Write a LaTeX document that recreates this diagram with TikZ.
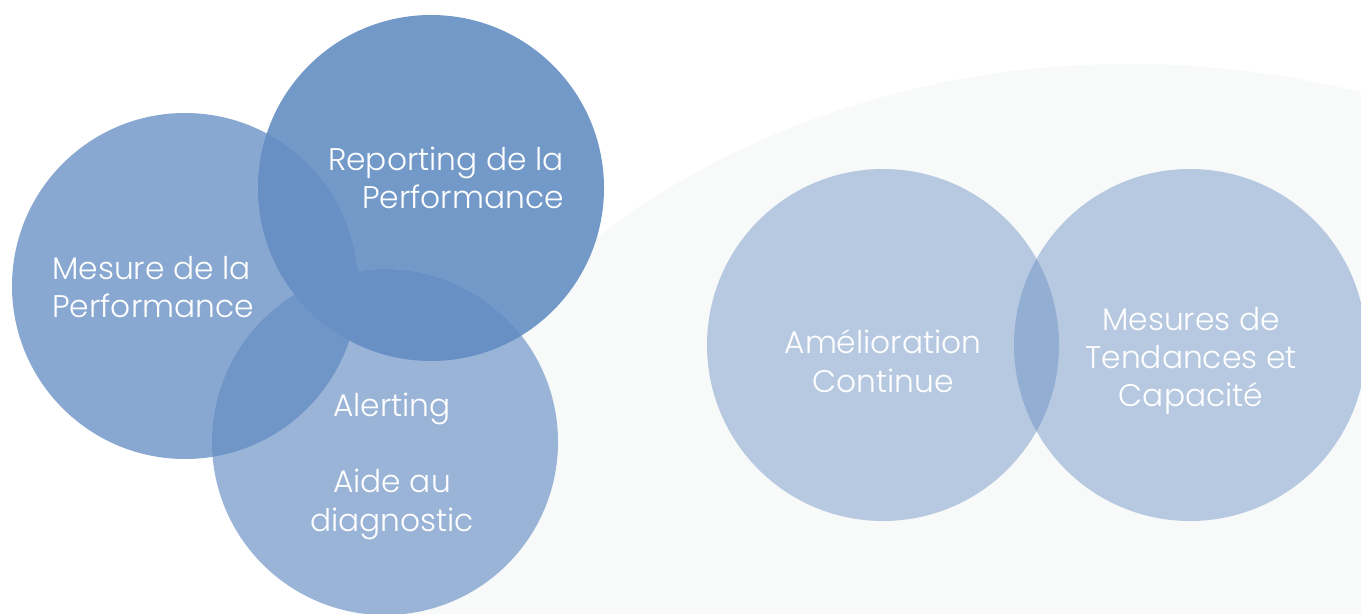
\documentclass[tikz,border=0pt]{standalone}
\usepackage{fontspec}
\setmainfont{Poppins}[UprightFont={* Light}]
\definecolor{bgGrey}{HTML}{F8F9F9}
\definecolor{mesBlue}{HTML}{88A8D1}
\definecolor{repBlue}{HTML}{7399C9}
\definecolor{alBlue}{HTML}{9AB4D8}
\definecolor{deepBlue}{HTML}{6890C4}
\definecolor{midBlue}{HTML}{6F96C7}
\definecolor{paleBlue}{HTML}{B7C9E1}
\definecolor{lensBlue}{HTML}{93AED3}

\begin{document}
\begin{tikzpicture}[x=0.02cm,y=-0.02cm,
    lbl/.style={text=white,font=\fontsize{17.8}{21.8}\selectfont,inner sep=0pt}]
            \useasboundingbox (0,0) rectangle (1361,614);
            \fill[white] (0,0) rectangle (1361,614);

            % Background
            \begin{scope}
            \clip (0,0) rectangle (1361,614);
            \fill[bgGrey] (1130,725) ellipse [x radius=790,y radius=661];
            \end{scope}

            % Left group
            \coordinate (mes) at (185,286);
            \coordinate (rep) at (431,188);
            \coordinate (al) at (385,442);

            \fill[mesBlue] (mes) circle [radius=173];
            \fill[repBlue] (rep) circle [radius=173];
            \begin{scope}
            \clip (0,0) rectangle (1361,614);
            \fill[alBlue] (al) circle [radius=173];
            \end{scope}

            \begin{scope}
            \clip (mes) circle [radius=173];
            \fill[midBlue] (al) circle [radius=173];
            \fill[deepBlue] (rep) circle [radius=173];
            \end{scope}
            \begin{scope}
            \clip (rep) circle [radius=173];
            \fill[deepBlue] (al) circle [radius=173];
            \end{scope}

            % Right group
            \coordinate (amel) at (883,345);
            \coordinate (tend) at (1190,345);

            \begin{scope}
            \clip (0,0) rectangle (1361,614);
            \fill[paleBlue] (amel) circle [radius=176];
            \fill[paleBlue] (tend) circle [radius=176];
            \clip (amel) circle [radius=176];
            \fill[lensBlue] (tend) circle [radius=176];
            \end{scope}

            % Labels
            \node[lbl,align=left,anchor=west] (mesTxt) at (52,287)
                {Mesure de la\\Performance};
            \node[lbl,align=right,anchor=east] (repTxt) at (564,178)
                {Reporting de la\\Performance};
            \node[lbl,align=center] (alTxt) at (392,466)
                {Alerting\\[21.8pt]Aide au\\diagnostic};
            \node[lbl,align=center] (amelTxt) at (883,361)
                {Amélioration\\Continue};
            \node[lbl,align=center] (tendTxt) at (1191,361)
                {Mesures de\\Tendances et\\Capacité};
        \end{tikzpicture}
\end{document}
